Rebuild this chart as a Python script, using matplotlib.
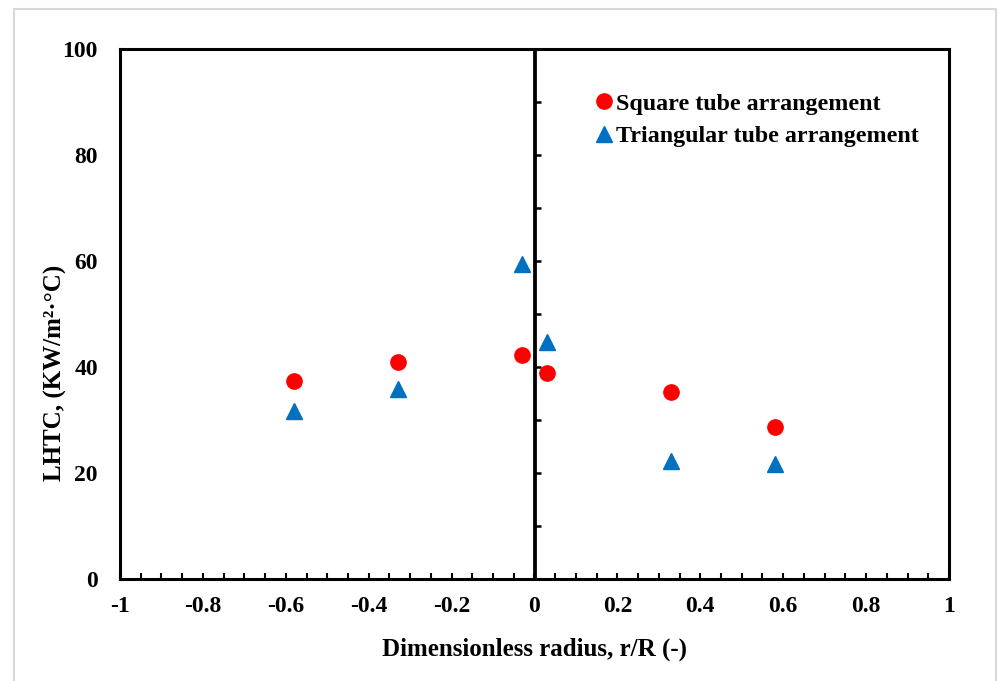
import matplotlib
matplotlib.use("Agg")
import matplotlib.pyplot as plt
from matplotlib.patches import Rectangle
import numpy as np

plt.rcParams['font.family'] = ['Liberation Serif', 'DejaVu Serif']
plt.rcParams['font.weight'] = 'bold'

# Data
r_positions = [-0.58, -0.33, -0.03, 0.03, 0.33, 0.58]
square_lhtc = [37.4, 41.0, 42.2, 38.8, 35.3, 28.7]
triangular_lhtc = [31.7, 35.9, 59.4, 44.8, 22.2, 21.7]
x_ticks = [-1, -0.8, -0.6, -0.4, -0.2, 0, 0.2, 0.4, 0.6, 0.8, 1]
x_tick_labels = ['-1', '-0.8', '-0.6', '-0.4', '-0.2', '0', '0.2', '0.4', '0.6', '0.8', '1']
y_ticks = [0, 20, 40, 60, 80, 100]

fig = plt.figure(figsize=(9.98, 6.81), dpi=100)
fig.patches.append(Rectangle((14/998, -0.01), (996-14)/998, 1 - 9/681 + 0.01,
                             transform=fig.transFigure, fill=False,
                             edgecolor='#d9d9d9', linewidth=1.5))

ax = fig.add_axes([120/998, (681-579)/681, (949-120)/998, (579-49)/681])
ax.set_xlim(-1, 1)
ax.set_ylim(0, 100)

ax.axvline(0, color='black', linewidth=2.0, zorder=1)

ax.plot(r_positions, square_lhtc, linestyle='none', marker='o', markersize=11,
        color='#ff0000', label='Square tube arrangement', zorder=3)
ax.plot(r_positions, triangular_lhtc, linestyle='none', marker='^', markersize=11,
        color='#0070c0', label='Triangular tube arrangement', zorder=3)

for s in ax.spines.values():
    s.set_linewidth(2.2)
    s.set_color('black')

ax.set_xticks(x_ticks)
ax.set_xticklabels(x_tick_labels)
ax.set_xticks(np.arange(-1, 1.0001, 0.05), minor=True)
ax.tick_params(axis='x', which='both', direction='in', length=4, width=1.5,
               labelsize=17, pad=12, top=False)
ax.set_yticks(y_ticks)
ax.tick_params(axis='y', which='both', length=0, labelsize=17, pad=16, right=False)

# vertical axis at x=0 with ticks on its right side
sec = ax.secondary_yaxis(0.5)
sec.set_yticks(np.arange(0, 101, 10))
sec.tick_params(axis='y', which='both', direction='out', length=4, width=1.8,
                labelleft=False, labelright=False)
for s in sec.spines.values():
    s.set_linewidth(2.0)

ax.set_xlabel('Dimensionless radius, r/R (-)', fontsize=18, fontweight='bold', labelpad=15)
ax.set_ylabel('LHTC, (KW/m²·°C)', fontsize=18, fontweight='bold')
ax.yaxis.set_label_coords(-0.064, 0.389)

leg = ax.legend(loc='upper left', bbox_to_anchor=((597-120)/829, (579-93)/530),
                frameon=False, fontsize=17.3, handlelength=0.6, handletextpad=0.2,
                labelspacing=0.45, borderpad=0, borderaxespad=0)

fig.savefig('out.png', dpi=100)
